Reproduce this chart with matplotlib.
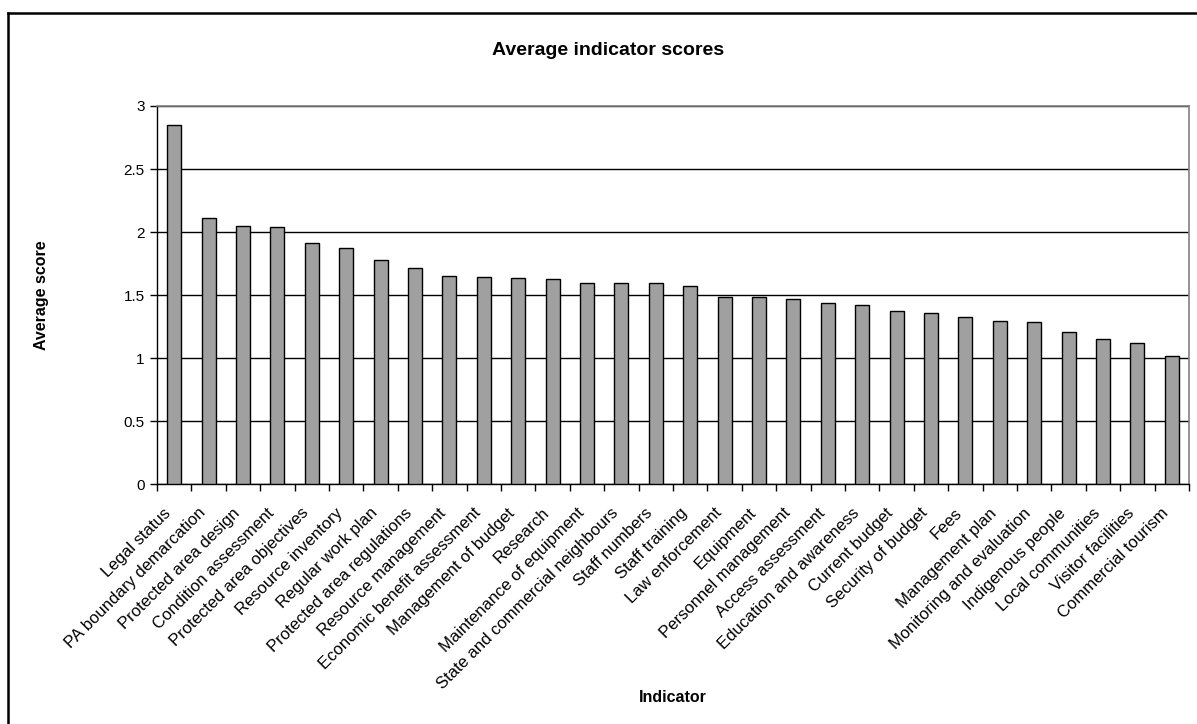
import matplotlib
matplotlib.use('Agg')
import matplotlib.pyplot as plt
import matplotlib.transforms as mtransforms
import numpy as np
from matplotlib.lines import Line2D

plt.rcParams['font.family'] = ['Liberation Sans', 'DejaVu Sans']

# indicator names, sorted by score
indicators = [
    'Legal status', 'PA boundary demarcation', 'Protected area design',
    'Condition assessment', 'Protected area objectives', 'Resource inventory',
    'Regular work plan', 'Protected area regulations', 'Resource management',
    'Economic benefit assessment', 'Management of budget', 'Research',
    'Maintenance of equipment', 'State and commercial neighbours',
    'Staff numbers', 'Staff training', 'Law enforcement', 'Equipment',
    'Personnel management', 'Access assessment', 'Education and awareness',
    'Current budget', 'Security of budget', 'Fees', 'Management plan',
    'Monitoring and evaluation', 'Indigenous people', 'Local communities',
    'Visitor facilities', 'Commercial tourism',
]
scores = [
    2.85, 2.11, 2.05, 2.04, 1.91, 1.875, 1.78, 1.715, 1.655, 1.645,
    1.635, 1.625, 1.60, 1.595, 1.595, 1.57, 1.487, 1.484, 1.468, 1.44,
    1.418, 1.378, 1.36, 1.328, 1.294, 1.289, 1.207, 1.154, 1.117, 1.017,
]
y_ticks = [0, 0.5, 1, 1.5, 2, 2.5, 3]

fig = plt.figure(figsize=(11.97, 7.24), dpi=100)
ax = fig.add_axes([0.1312, 0.3311, 0.8621, 0.5225])

x = np.arange(len(indicators))
ax.bar(x, scores, width=0.41, color='#a0a0a0', edgecolor='black',
       linewidth=1.0, zorder=3)

ax.set_xlim(-0.5, len(indicators) - 0.5)
ax.set_ylim(0, 3)
ax.set_yticks(y_ticks)
ax.set_yticklabels(['0', '0.5', '1', '1.5', '2', '2.5', '3'], fontsize=11)
ax.yaxis.grid(True, color='black', linewidth=1.0, zorder=0)

# category labels at the centres, tick marks on the boundaries
ax.set_xticks(x)
ax.set_xticklabels(indicators, rotation=45, ha='right', va='center',
                   rotation_mode='anchor', fontsize=12)
ax.tick_params(axis='x', which='major', length=0, pad=19)
shift = mtransforms.ScaledTranslation(-4 / 72, 0, fig.dpi_scale_trans)
for lbl in ax.get_xticklabels():
    lbl.set_transform(lbl.get_transform() + shift)
ax.set_xticks(np.arange(len(indicators) + 1) - 0.5, minor=True)
ax.tick_params(axis='x', which='minor', length=5, width=1, color='black')
ax.tick_params(axis='y', length=5, width=1, color='black', pad=4)

for side in ['top', 'right']:
    ax.spines[side].set_color('#808080')
    ax.spines[side].set_linewidth(1.2)
for side in ['left', 'bottom']:
    ax.spines[side].set_color('black')
    ax.spines[side].set_linewidth(1.0)

fig.text(0.508, 0.9296, 'Average indicator scores', ha='center', va='center',
         fontsize=14, fontweight='bold')
fig.text(0.0343, 0.5924, 'Average score', ha='center', va='center',
         rotation=90, fontsize=11.5, fontweight='bold')
fig.text(0.5622, 0.0363, 'Indicator', ha='center', va='center',
         fontsize=11.5, fontweight='bold')

# chart frame around the whole figure
x0 = 7.5 / 1197
y0 = 1 - 12.5 / 724
fig.add_artist(Line2D([x0, 1.0], [y0, y0], color='black', linewidth=1.8,
                      transform=fig.transFigure))
fig.add_artist(Line2D([x0, x0], [0.0, y0], color='black', linewidth=1.8,
                      transform=fig.transFigure))

fig.savefig('out.png', dpi=100)
